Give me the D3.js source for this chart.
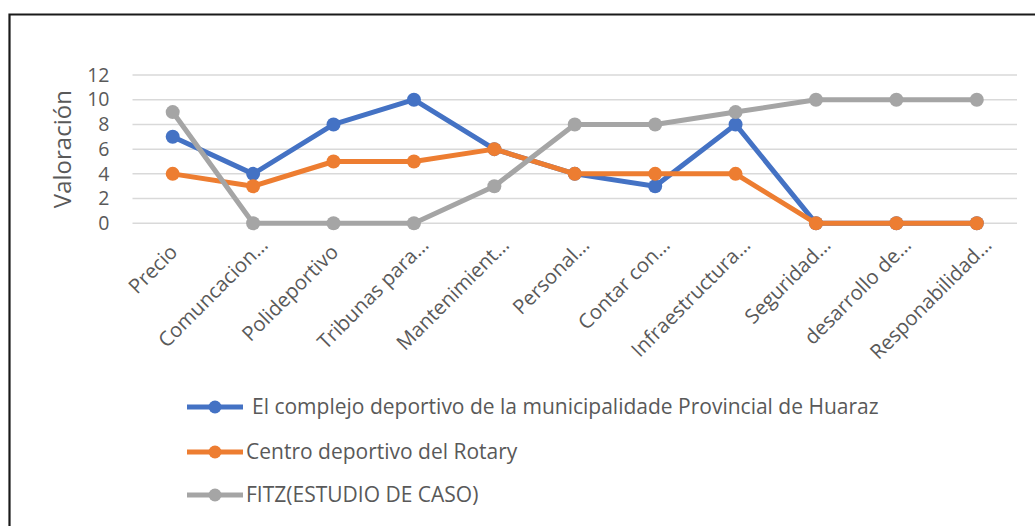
<!DOCTYPE html>
<html>
<head>
<meta charset="utf-8">
<script src="https://cdn.jsdelivr.net/npm/d3@7"></script>
<style>
  html, body { margin: 0; padding: 0; background: #fff; }
  svg { display: block; font-family: "Open Sans", sans-serif; }
</style>
</head>
<body>
<svg id="chart" width="1035" height="526"></svg>
<script>
// Categories evaluated
const categories = [
  "Precio", "Comuncacion…", "Polideportivo", "Tribunas para…", "Mantenimient…",
  "Personal…", "Contar con…", "Infraestructura…", "Seguridad…", "desarrollo de…",
  "Responabilidad…"
];

// Scores for each facility
const complejoHuaraz = [7, 4, 8, 10, 6, 4, 3, 8, 0, 0, 0];
const centroRotary   = [4, 3, 5, 5, 6, 4, 4, 4, 0, 0, 0];
const fitzCaso       = [9, 0, 0, 0, 3, 8, 8, 9, 10, 10, 10];

const seriesNames = [
  "El complejo deportivo de la municipalidade Provincial de Huaraz",
  "Centro deportivo del Rotary",
  "FITZ(ESTUDIO DE CASO)"
];
const seriesColors = ["#4472C4", "#ED7D31", "#A5A5A5"];
const yTicks = [0, 2, 4, 6, 8, 10, 12];

const series = [complejoHuaraz, centroRotary, fitzCaso].map((values, i) => ({
  name: seriesNames[i], color: seriesColors[i], values
}));

const svg = d3.select("#chart");

// Outer frame (top and left edges visible)
svg.append("path")
  .attr("d", "M9.5,526 V14.5 H1035")
  .attr("fill", "none")
  .attr("stroke", "#1a1a1a")
  .attr("stroke-width", 2.2);

const plot = { left: 132.5, right: 1017, top: 75, bottom: 223.3 };

const x = d3.scaleBand()
  .domain(categories)
  .range([plot.left, plot.right]);

const y = d3.scaleLinear()
  .domain([0, 12])
  .range([plot.bottom, plot.top]);

const textColor = "#595959";

// Horizontal gridlines
svg.append("g")
  .selectAll("line")
  .data(yTicks)
  .join("line")
  .attr("x1", plot.left)
  .attr("x2", plot.right)
  .attr("y1", d => y(d))
  .attr("y2", d => y(d))
  .attr("stroke", "#D9D9D9")
  .attr("stroke-width", 1.5);

// Y axis labels
const yAxis = svg.append("g")
  .attr("transform", `translate(109.5,0)`)
  .call(d3.axisLeft(y).tickValues(yTicks).tickSize(0).tickPadding(0));
yAxis.select(".domain").remove();
yAxis.selectAll("text")
  .attr("fill", textColor)
  .attr("font-size", 19.5)
  .attr("font-family", "Open Sans, sans-serif");

// Y axis title
svg.append("text")
  .attr("transform", `translate(71,${(plot.top + plot.bottom) / 2}) rotate(-90)`)
  .attr("text-anchor", "middle")
  .attr("fill", textColor)
  .attr("font-size", 24)
  .text("Valoración");

// X axis category labels, rotated 45 degrees and right-aligned to the tick
const xAxis = svg.append("g")
  .attr("transform", `translate(0,${plot.bottom})`)
  .call(d3.axisBottom(x).tickSize(0).tickPadding(0));
xAxis.select(".domain").remove();
xAxis.selectAll("text")
  .attr("fill", textColor)
  .attr("font-size", 20.3)
  .attr("font-family", "Open Sans, sans-serif")
  .attr("text-anchor", "end")
  .attr("y", 0)
  .attr("dy", 0)
  .attr("transform", d => d.endsWith("…")
    ? "translate(16,23) rotate(-45)"
    : "translate(6,30) rotate(-45)");

// Series lines and markers
const cx = (d, i) => x(categories[i]) + x.bandwidth() / 2;
const line = d3.line().x(cx).y(d => y(d));

const gSeries = svg.append("g")
  .selectAll("g")
  .data(series)
  .join("g");

gSeries.append("path")
  .attr("d", d => line(d.values))
  .attr("fill", "none")
  .attr("stroke", d => d.color)
  .attr("stroke-width", 5)
  .attr("stroke-linejoin", "round");

gSeries.each(function (s) {
  d3.select(this).selectAll("circle")
    .data(s.values)
    .join("circle")
    .attr("cx", cx)
    .attr("cy", d => y(d))
    .attr("r", 7)
    .attr("fill", s.color);
});

// Legend
const legendRows = [407, 452, 495];
const legendTextX = [252, 246, 246];
const legend = svg.append("g")
  .selectAll("g")
  .data(series)
  .join("g");

legend.append("line")
  .attr("x1", 187).attr("x2", 243)
  .attr("y1", (d, i) => legendRows[i]).attr("y2", (d, i) => legendRows[i])
  .attr("stroke", d => d.color)
  .attr("stroke-width", 5);

legend.append("circle")
  .attr("cx", 215)
  .attr("cy", (d, i) => legendRows[i])
  .attr("r", 6.5)
  .attr("fill", d => d.color);

legend.append("text")
  .attr("x", (d, i) => legendTextX[i])
  .attr("y", (d, i) => legendRows[i])
  .attr("dy", "0.35em")
  .attr("fill", textColor)
  .attr("font-size", 21)
  .text(d => d.name);
</script>
</body>
</html>
